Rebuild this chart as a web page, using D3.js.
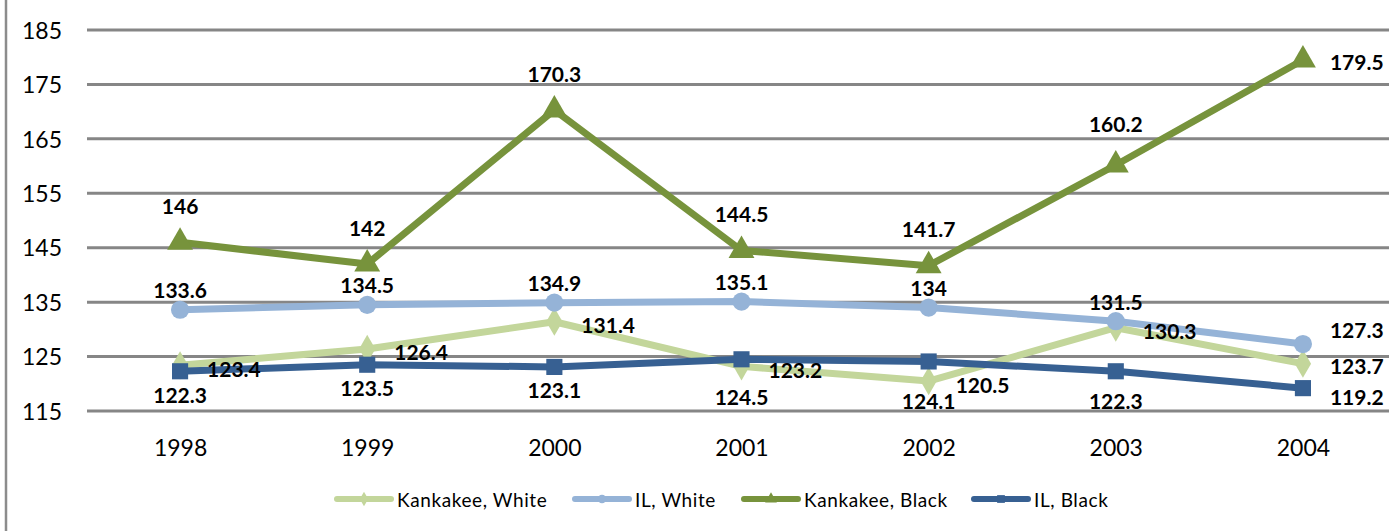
<!DOCTYPE html>
<html>
<head>
<meta charset="utf-8">
<script src="https://cdn.jsdelivr.net/npm/d3@7"></script>
<style>
  body { margin: 0; background: #fff; }
  svg { display: block; font-family: Lato, "Open Sans", sans-serif; }
</style>
</head>
<body>
<svg id="my_svg"></svg>
<script>
const width = 1389;
const height = 531;

// data
const years = ['1998', '1999', '2000', '2001', '2002', '2003', '2004'];
const yTicks = [115, 125, 135, 145, 155, 165, 175, 185];
const seriesNames = ['Kankakee, White', 'IL, White', 'Kankakee, Black', 'IL, Black'];
const kankakeeWhite = [123.4, 126.4, 131.4, 123.2, 120.5, 130.3, 123.7];
const ilWhite = [133.6, 134.5, 134.9, 135.1, 134, 131.5, 127.3];
const kankakeeBlack = [146, 142, 170.3, 144.5, 141.7, 160.2, 179.5];
const ilBlack = [122.3, 123.5, 123.1, 124.5, 124.1, 122.3, 119.2];

const colors = ['#c3d69b', '#95b3d7', '#77933c', '#376092'];
const symbols = [d3.symbolDiamond, d3.symbolCircle, d3.symbolTriangle, d3.symbolSquare];
const symSize = [230, 260, 290, 260];
// label position: which side of the point
const labelSide = ['right', 'above', 'above', 'below'];

const series = seriesNames.map((name, i) => ({
  name: name,
  values: [kankakeeWhite, ilWhite, kankakeeBlack, ilBlack][i],
  color: colors[i],
  symbol: symbols[i],
  size: symSize[i],
  side: labelSide[i]
}));

const svg = d3.select('#my_svg')
  .attr('width', width)
  .attr('height', height);

// 左侧边框
svg.append('line')
  .attr('x1', 6).attr('x2', 6)
  .attr('y1', 0).attr('y2', height)
  .attr('stroke', '#8c8c8c')
  .attr('stroke-width', 2.5);

const x = d3.scalePoint()
  .domain(years)
  .range([86.5, 1396.5])
  .padding(0.5);

const y = d3.scaleLinear()
  .domain([115, 185])
  .range([411, 30]);

// 网格线
svg.append('g')
  .selectAll('line')
  .data(yTicks)
  .enter()
  .append('line')
  .attr('x1', 87)
  .attr('x2', 1400)
  .attr('y1', d => y(d))
  .attr('y2', d => y(d))
  .attr('stroke', '#868686')
  .attr('stroke-width', 3);

// 纵坐标
const yAxis = d3.axisLeft(y)
  .tickValues(yTicks)
  .tickSize(0)
  .tickPadding(0);

svg.append('g')
  .attr('transform', 'translate(62, 0)')
  .call(yAxis)
  .call(g => g.select('.domain').remove())
  .call(g => g.selectAll('text')
    .attr('font-family', 'Lato, sans-serif')
    .attr('font-size', 23)
    .attr('fill', '#000')
    .attr('dy', '0.36em'));

// 横坐标
const xAxis = d3.axisBottom(x)
  .tickSize(0)
  .tickPadding(0);

svg.append('g')
  .attr('transform', 'translate(0, 440)')
  .call(xAxis)
  .call(g => g.select('.domain').remove())
  .call(g => g.selectAll('text')
    .attr('font-family', 'Lato, sans-serif')
    .attr('font-size', 23)
    .attr('fill', '#000')
    .attr('dy', '0.36em')
    .attr('y', 8));

// 折线和标记
const line = d3.line()
  .x((d, i) => x(years[i]))
  .y(d => y(d));

series.forEach(s => {
  const g = svg.append('g');
  g.append('path')
    .datum(s.values)
    .attr('d', line)
    .attr('fill', 'none')
    .attr('stroke', s.color)
    .attr('stroke-width', 7)
    .attr('stroke-linejoin', 'round');
  g.selectAll('path.mark')
    .data(s.values)
    .enter()
    .append('path')
    .attr('class', 'mark')
    .attr('transform', (d, i) => `translate(${x(years[i])}, ${y(d)})`)
    .attr('d', d3.symbol().type(s.symbol).size(s.size))
    .attr('fill', s.color);
});

// 数据标签 (一些手动微调, 与原图一致)
const nudge = { '3-3': 14, '3-4': 16, '3-5': 6, '2-5': -4 };
series.forEach((s, si) => {
  svg.append('g')
    .selectAll('text')
    .data(s.values)
    .enter()
    .append('text')
    .text(d => d)
    .attr('font-family', 'Lato, sans-serif')
    .attr('font-weight', 'bold')
    .attr('font-size', 21)
    .attr('fill', '#000')
    .attr('dominant-baseline', 'central')
    .attr('text-anchor', (d, i) => (s.side === 'right' || i === years.length - 1) ? 'start' : 'middle')
    .attr('x', (d, i) => {
      if (s.side === 'right' || i === years.length - 1) return x(years[i]) + 27;
      return x(years[i]);
    })
    .attr('y', (d, i) => {
      const base = y(d);
      const n = nudge[si + '-' + i] || 0;
      if (i === years.length - 1) {
        if (si === 1) return base - 15;
        if (si === 3) return base + 8;
        return base + 2;
      }
      if (s.side === 'right') return base + 3;
      if (s.side === 'above') return base + (si === 2 ? -37 : -20) + n;
      return base + 23 + n;
    });
});

// 图例
const legendX = [335, 573, 742, 972];
const legend = svg.append('g')
  .attr('transform', 'translate(0, 499)');

series.forEach((s, i) => {
  const item = legend.append('g')
    .attr('transform', `translate(${legendX[i]}, 0)`);
  item.append('line')
    .attr('x1', 2).attr('x2', 56)
    .attr('y1', 0).attr('y2', 0)
    .attr('stroke', s.color)
    .attr('stroke-width', 6)
    .attr('stroke-linecap', 'round');
  item.append('path')
    .attr('transform', 'translate(29, 0)')
    .attr('d', d3.symbol().type(s.symbol).size(60))
    .attr('fill', s.color);
  item.append('text')
    .attr('x', 62)
    .attr('y', 0)
    .attr('dominant-baseline', 'central')
    .attr('font-family', 'Lato, sans-serif')
    .attr('font-size', 19)
    .attr('letter-spacing', 0.6)
    .attr('fill', '#000')
    .text(s.name);
});
</script>
</body>
</html>
